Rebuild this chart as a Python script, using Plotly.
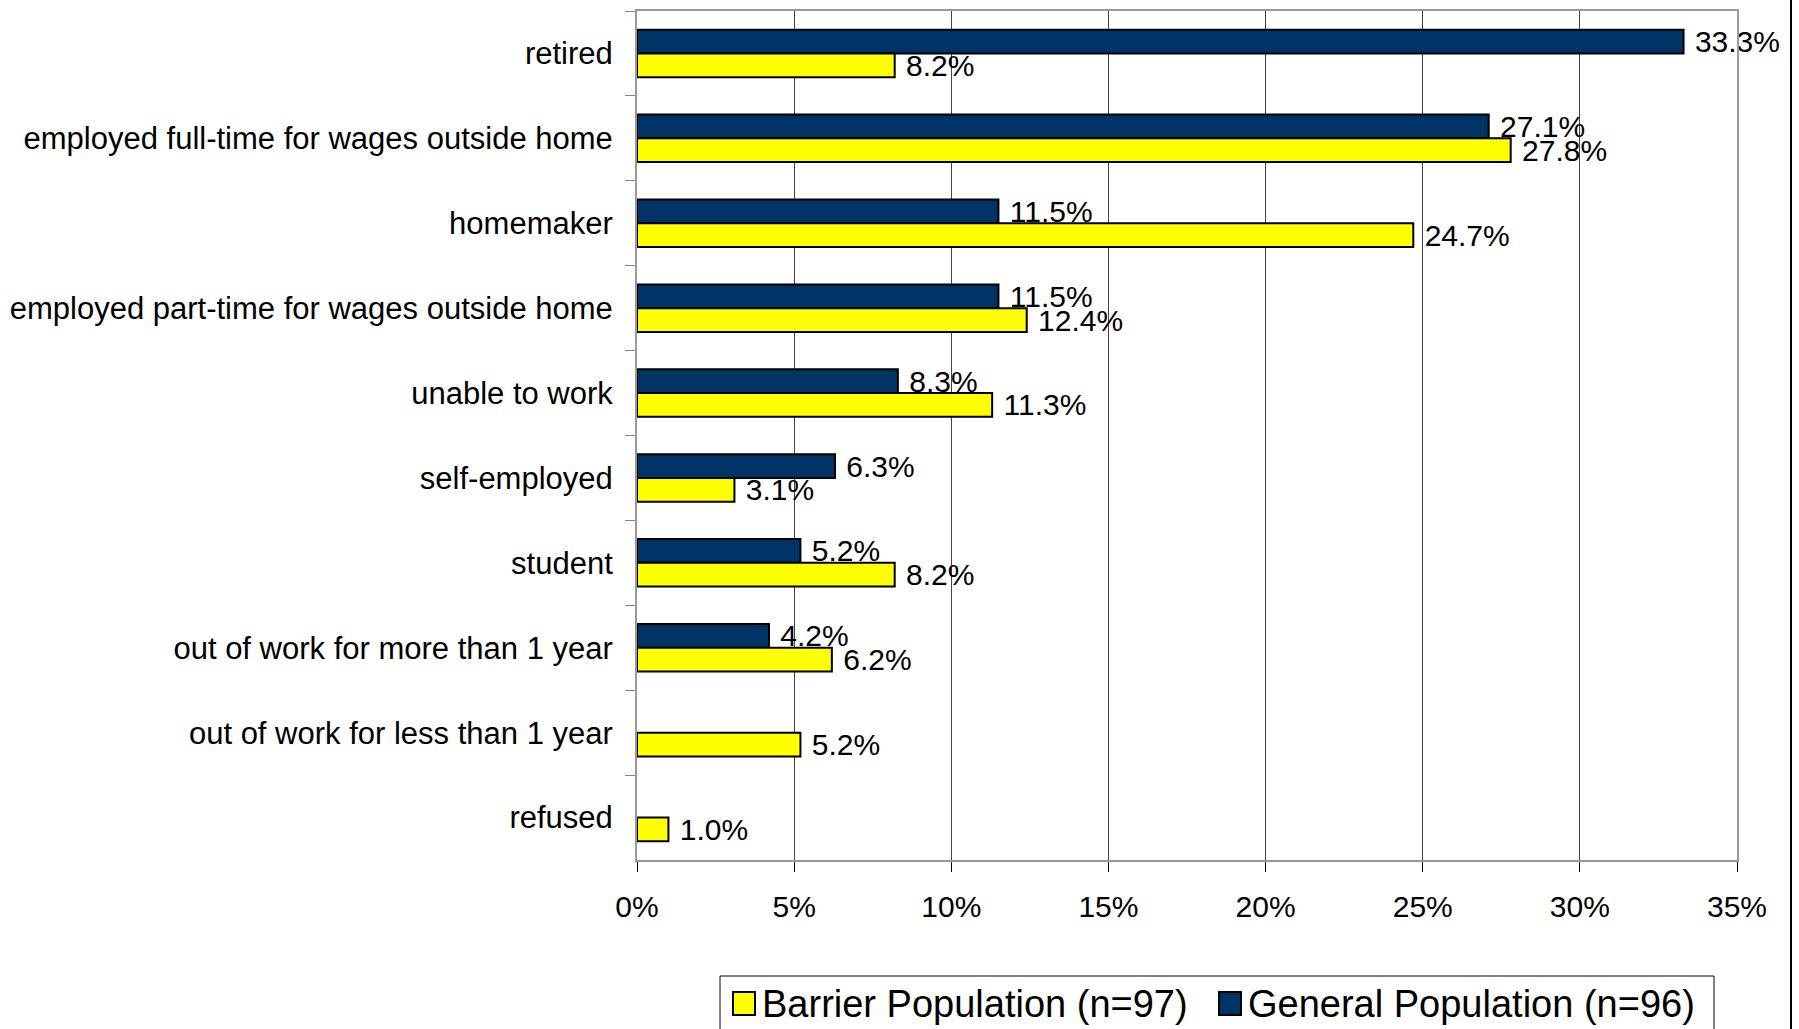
import plotly.graph_objects as go

# Employment status of respondents, percent of each population
categories = [
    "retired",
    "employed full-time for wages outside home",
    "homemaker",
    "employed part-time for wages outside home",
    "unable to work",
    "self-employed",
    "student",
    "out of work for more than 1 year",
    "out of work for less than 1 year",
    "refused",
]
general_pct = [33.3, 27.1, 11.5, 11.5, 8.3, 6.3, 5.2, 4.2, None, None]
barrier_pct = [8.2, 27.8, 24.7, 12.4, 11.3, 3.1, 8.2, 6.2, 5.2, 1.0]
x_ticks = [0, 5, 10, 15, 20, 25, 30, 35]
x_tick_text = [f"{v}%" for v in x_ticks]

series_names = ["Barrier Population (n=97)", "General Population (n=96)"]
series_colors = ["#FFFF00", "#003366"]

FONT = "Liberation Sans, Arial, sans-serif"
W, H = 1799, 1029
L, R, T, B = 637, 62, 11, 169
plot_w = W - L - R
plot_h = H - T - B


def px_x(x):
    """Page pixel column -> paper x."""
    return (x - L) / plot_w


def px_y(y):
    """Page pixel row -> paper y."""
    return (H - B - y) / plot_h


fig = go.Figure()
# General Population first so it sits above Barrier Population in each group
for vals, name, color in [(general_pct, series_names[1], series_colors[1]),
                          (barrier_pct, series_names[0], series_colors[0])]:
    fig.add_trace(go.Bar(
        name=name, y=categories, x=vals, orientation="h",
        marker=dict(color=color, line=dict(color="black", width=2)),
        texttemplate=" %{x:.1f}%", textposition="outside",
        textfont=dict(size=30, color="black", family=FONT),
        constraintext="none", cliponaxis=False, showlegend=False,
    ))

# Legend drawn as a framed key below the plot
shapes = [
    dict(type="rect", xref="paper", yref="paper",
         x0=px_x(720), x1=px_x(1714), y0=px_y(1040), y1=px_y(976),
         line=dict(color="black", width=1), fillcolor="white", layer="above"),
    dict(type="line", xref="paper", yref="paper",
         x0=px_x(1791), x1=px_x(1791), y0=px_y(1035), y1=px_y(-5),
         line=dict(color="black", width=2)),
]
annotations = []
key_items = [(733, 760, series_names[0], series_colors[0]),
             (1219, 1246, series_names[1], series_colors[1])]
for sx, tx, name, color in key_items:
    shapes.append(dict(type="rect", xref="paper", yref="paper",
                       x0=px_x(sx), x1=px_x(sx + 22), y0=px_y(1015), y1=px_y(992),
                       line=dict(color="black", width=2), fillcolor=color,
                       layer="above"))
    annotations.append(dict(xref="paper", yref="paper",
                            x=px_x(tx), y=px_y(1004), xanchor="left",
                            yanchor="middle", text=name, showarrow=False,
                            font=dict(size=38, family=FONT, color="black")))

fig.update_layout(
    width=W, height=H,
    margin=dict(l=L, r=R, t=T, b=B, pad=0, autoexpand=False),
    paper_bgcolor="white", plot_bgcolor="white",
    barmode="group", bargap=0.44, bargroupgap=0,
    font=dict(family=FONT, color="black", size=30),
    showlegend=False,
    xaxis=dict(
        range=[0, 35], tickvals=x_ticks, ticktext=x_tick_text,
        showgrid=True, gridcolor="#444444", gridwidth=1,
        zeroline=False,
        ticks="outside", ticklen=10, tickcolor="black", tickwidth=1,
        showline=True, linecolor="#999999", linewidth=2, mirror=True,
        tickfont=dict(size=30, family=FONT, color="black"),
        ticklabelstandoff=9,
    ),
    yaxis=dict(
        type="category", categoryorder="array", categoryarray=categories,
        autorange="reversed",
        showgrid=False,
        ticks="outside", tickson="boundaries", ticklen=10,
        tickcolor="#888888", tickwidth=1,
        showline=True, linecolor="#999999", linewidth=2, mirror=True,
        tickfont=dict(size=31, family=FONT, color="black"),
        ticklabelstandoff=16,
    ),
    shapes=shapes,
    annotations=annotations,
)

fig.write_html("out.html")
